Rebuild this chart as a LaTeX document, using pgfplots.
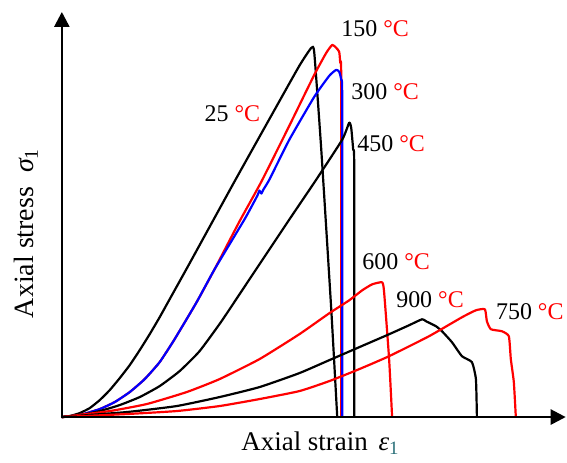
\documentclass[border=0pt]{standalone}
\usepackage{pgfplots}
\pgfplotsset{compat=1.18}
\usepackage{fontspec}
\setmainfont{Liberation Serif}
\usetikzlibrary{arrows.meta}

\definecolor{curvered}{RGB}{255,0,0}
\definecolor{curveblue}{RGB}{0,0,255}
\definecolor{subteal}{RGB}{40,110,120}

\newcommand{\lab}[1]{\fontsize{24bp}{28bp}\selectfont #1 \textcolor{curvered}{°C}}

\begin{document}
\begin{tikzpicture}
\begin{axis}[
 scale only axis,
 width=567bp,height=464bp,
 xmin=-62,xmax=505,ymin=-46,ymax=418,
 hide axis,clip=false,
 every axis plot/.append style={line width=2.2bp,mark=none,line join=round,smooth,tension=0.3}]

% 25 C
\addplot[black] coordinates {
(0,0) (8,1) (18,4) (28,9) (38,17) (48,27) (58,39) (68,52) (78,67) (88,83) (98,100) (108,118)
(128,154) (173,236) (211,304) (238,352) (250,370) (253,365) (260,268) (270,108) (276,0)};
% 150 C
\addplot[curvered] coordinates {
(0,0) (18,2) (38,8) (53,15) (68,25) (83,38) (98,55) (113,78) (135,115) (153,148) (178,196)
(200,236) (228,292) (253,343) (265,365) (271,373) (275,370) (278,366) (279,355) (280,338) (280,0)};
% 300 C
\addplot[curveblue] coordinates {
(0,0) (18,2) (38,8) (53,15) (68,25) (83,38) (98,55) (113,78) (135,115) (153,148) (183,198)
(196,222) (198,227) (200,224) (202,228) (208,238) (228,278) (253,321) (268,342) (275,348)
(278,346) (280,338) (281,318) (281,0)};
% 450 C
\addplot[black] coordinates {
(0,0) (18,2) (38,6) (58,12) (78,20) (98,31) (118,46) (138,66) (160,96) (188,138)
(228,198) (255,238) (281,278) (288,295) (290,290) (292,268) (293,253) (293,0)};
% 600 C
\addplot[curvered] coordinates {
(0,0) (48,6) (85,13) (125,25) (158,38) (198,58) (238,83) (268,104) (288,117) (301,127)
(311,133) (321,135) (323,125) (328,58) (331,0)};
% 900 C
\addplot[black] coordinates {
(0,0) (65,5) (115,11) (158,20) (198,30) (238,44) (268,57) (298,70) (328,83) (348,92)
(361,98) (365,96) (375,91) (381,86) (391,75) (401,61) (411,55) (415,38) (416,0)};
% 750 C
\addplot[curvered] coordinates {
(0,0) (65,3) (115,6) (158,11) (198,18) (238,26) (268,36) (298,48) (328,61) (368,81)
(401,100) (415,107) (424,108) (426,96) (430,88) (441,86) (448,81) (450,58) (453,35) (455,0)};

% axes with arrows
\draw[line width=2.6bp,-{Triangle[length=15bp,width=15bp]}] (axis cs:-1.3,0) -- (axis cs:505,0);
\draw[line width=2.6bp,-{Triangle[length=15bp,width=15bp]}] (axis cs:0,-1.3) -- (axis cs:0,406);
\path (axis cs:-62,-46) rectangle (axis cs:505,418);

% curve labels
\node[anchor=west,inner sep=0pt] at (axis cs:143,304) {\lab{25}};
\node[anchor=west,inner sep=0pt] at (axis cs:280,389) {\lab{150}};
\node[anchor=west,inner sep=0pt] at (axis cs:290,326) {\lab{300}};
\node[anchor=west,inner sep=0pt] at (axis cs:296,274) {\lab{450}};
\node[anchor=west,inner sep=0pt] at (axis cs:301,156) {\lab{600}};
\node[anchor=west,inner sep=0pt] at (axis cs:335,118) {\lab{900}};
\node[anchor=west,inner sep=0pt] at (axis cs:435,106) {\lab{750}};

% axis titles
\node[inner sep=0pt,font=\fontsize{27bp}{31bp}\selectfont] at (axis cs:259,-26)
 {Axial strain\hspace{0.4em}{\itshape ε}\textsubscript{\textcolor{subteal}{1}}};
\node[inner sep=0pt,rotate=90,font=\fontsize{28bp}{32bp}\selectfont] at (axis cs:-36,184)
 {Axial stress\hspace{0.5em}{\itshape σ}\textsubscript{1}};
\end{axis}
\end{tikzpicture}
\end{document}
